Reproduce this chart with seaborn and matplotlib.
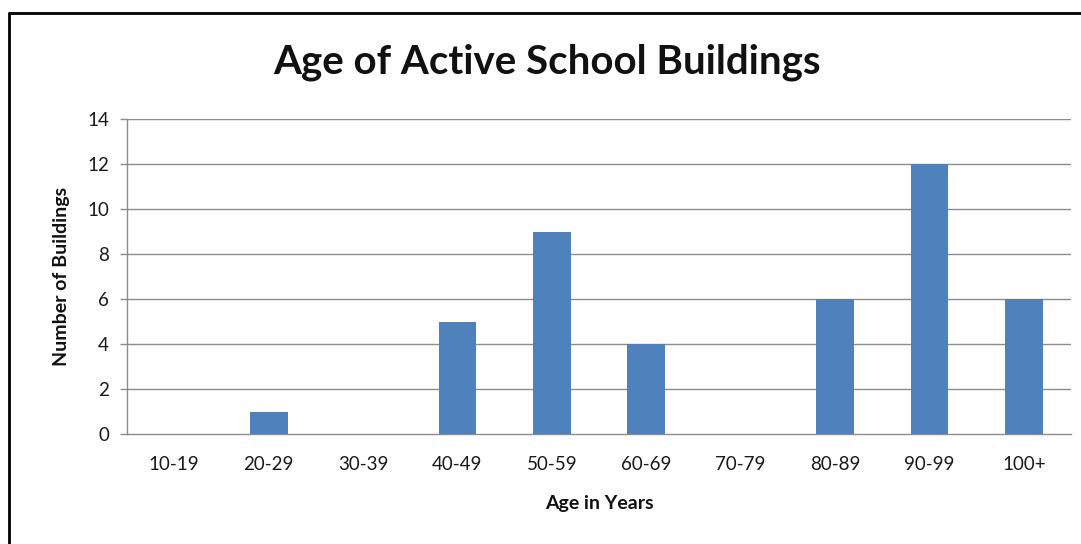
import matplotlib
matplotlib.use("Agg")
import matplotlib.pyplot as plt
from matplotlib.lines import Line2D
import numpy as np
import pandas as pd
import seaborn as sns

# data
age_groups = ['10-19', '20-29', '30-39', '40-49', '50-59', '60-69', '70-79', '80-89', '90-99', '100+']
num_buildings = [0, 1, 0, 5, 9, 4, 0, 6, 12, 6]
y_ticks = [0, 2, 4, 6, 8, 10, 12, 14]

df = pd.DataFrame({'age': age_groups, 'count': num_buildings})

sns.set_theme(style="white")
plt.rcParams['font.family'] = ['Lato', 'DejaVu Sans']

fig = plt.figure(figsize=(10.81, 5.44), dpi=100)
ax = fig.add_axes([0.1175, 0.2022, 0.8733, 0.579])

sns.barplot(data=df, x='age', y='count', color='#4F81BD', width=0.4,
            saturation=1, linewidth=0, ax=ax, zorder=3)

grid_col = '#8c8c8c'
ax.set_ylim(0, 14)
ax.set_yticks(y_ticks)
ax.set_xlim(-0.5, len(age_groups) - 0.5)
for y in y_ticks[1:]:
    ax.axhline(y, color=grid_col, lw=1, zorder=1)

for s in ['top', 'right']:
    ax.spines[s].set_visible(False)
for s in ['left', 'bottom']:
    ax.spines[s].set_color(grid_col)
    ax.spines[s].set_linewidth(1)

ax.set_xticks(np.arange(-0.5, len(age_groups)), minor=True)
ax.tick_params(axis='x', which='major', length=0, pad=16, labelsize=13.5, colors='#1a1a1a')
ax.tick_params(axis='x', which='minor', length=7, width=1, color=grid_col, direction='out')
ax.tick_params(axis='y', length=5, width=1, color=grid_col, direction='out', left=True,
               labelsize=13.5, labelcolor='#1a1a1a', pad=8)

ax.set_xlabel('Age in Years', fontsize=14, fontweight='bold', labelpad=16, color='#111111')
ax.set_ylabel('Number of Buildings', fontsize=14, fontweight='bold', labelpad=12, color='#111111')

fig.text(0.506, 0.886, 'Age of Active School Buildings', fontsize=29,
         fontweight='bold', ha='center', va='center', color='#111111')

# partial frame (top and left edge) like the original screenshot
fig.add_artist(Line2D([9 / 1081, 1.0], [1 - 13 / 544, 1 - 13 / 544], color='black', lw=2,
                      transform=fig.transFigure))
fig.add_artist(Line2D([9 / 1081, 9 / 1081], [0.0, 1 - 13 / 544], color='black', lw=2,
                      transform=fig.transFigure))

fig.savefig('out.png', dpi=100)
